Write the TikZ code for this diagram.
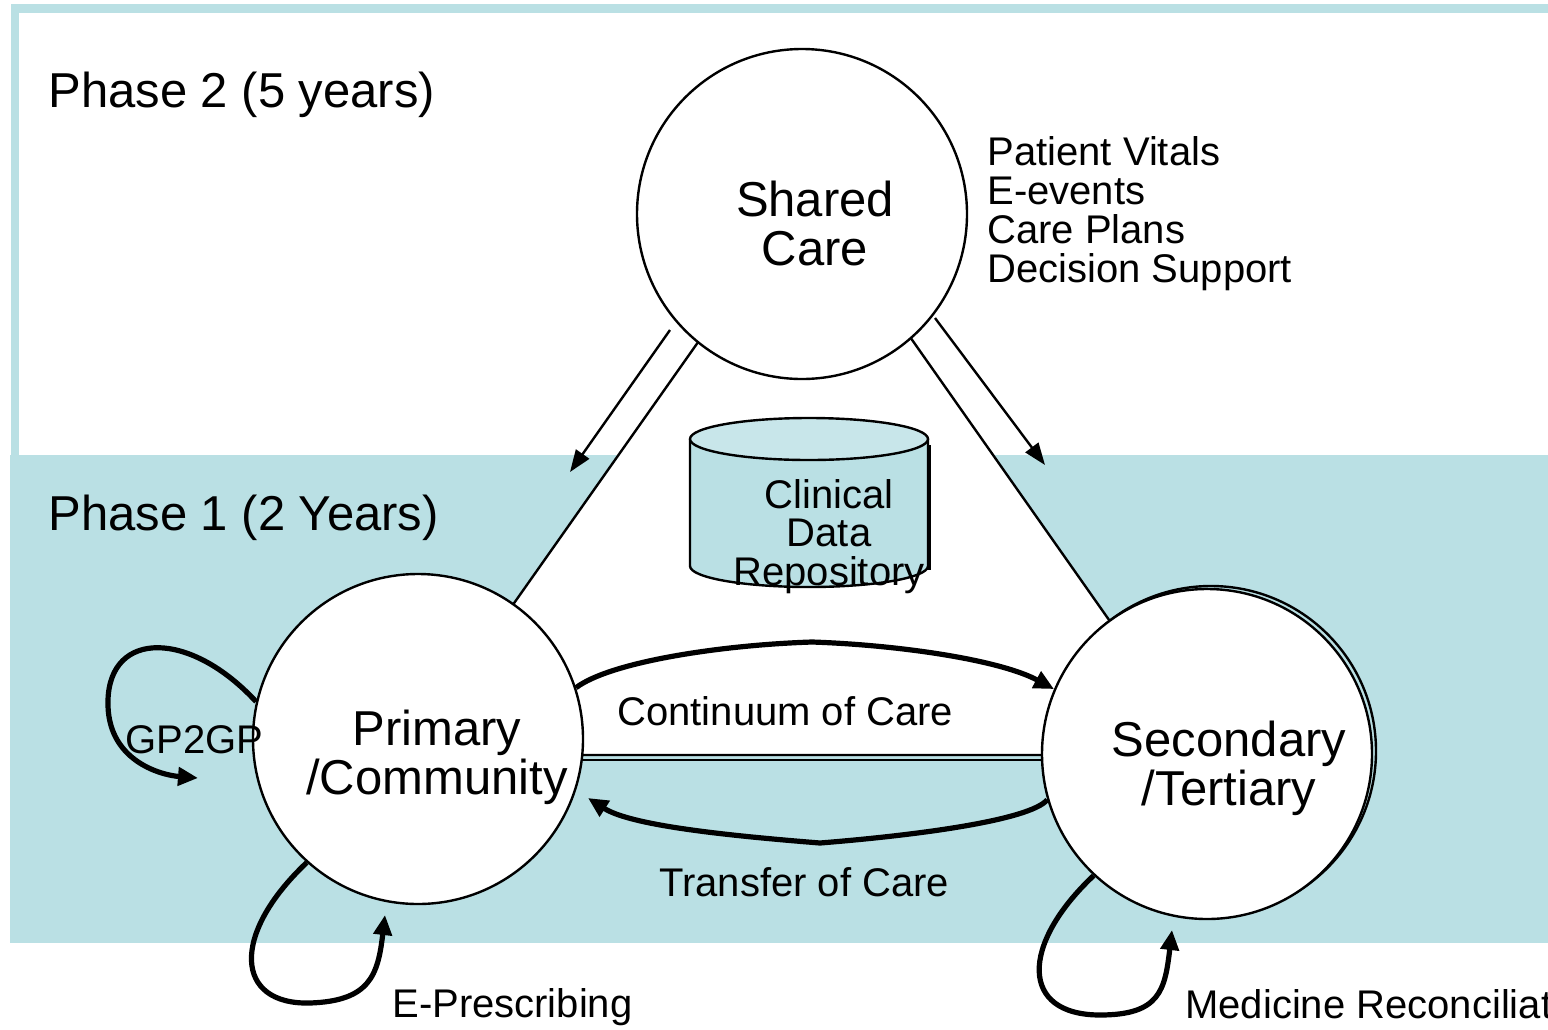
\documentclass[tikz,border=0pt]{standalone}
\usepackage{fontspec}
\setmainfont{Liberation Sans}
\usetikzlibrary{arrows.meta}
\definecolor{phaseblue}{HTML}{BAE0E4}
\definecolor{lidblue}{HTML}{C8E6EA}

\begin{document}
\begin{tikzpicture}[x=0.5pt,y=-0.5pt,
  unit/.style={circle, draw, fill=white, line width=1.2pt, minimum size=165pt, inner sep=0pt},
  bigtext/.style={font=\fontsize{24.5}{24.5}\selectfont, align=center, inner sep=0pt},
  smalltext/.style={font=\fontsize{20}{19.5}\selectfont, inner sep=0pt},
  flow/.style={line width=2.6pt, -{Triangle[length=10pt,width=9pt]}},
  feed/.style={line width=1.2pt, -{Triangle[length=11pt,width=8pt]}}]
  \clip (0,0) rectangle (1548,1029);
  \fill[white] (0,0) rectangle (1548,1029);
  % phase 1 (bande)
  \fill[phaseblue] (10,455) rectangle (1560,943);
  % phase 2 (cadre)
  \draw[phaseblue, line width=4.3pt] (15,457) -- (15,8.5) -- (1560,8.5);
  \node[font=\fontsize{24.5}{24.5}\selectfont, inner sep=0pt, anchor=base west] (phasetwo) at (48,107) {Phase 2 (5 years)};
  \node[font=\fontsize{24.5}{24.5}\selectfont, inner sep=0pt, anchor=base west] (phaseone) at (48,530) {Phase 1 (2 Years)};
  % triangle
  \coordinate (apex) at (806,189);
  \coordinate (bl) at (407,755);
  \coordinate (br) at (1204,755);
  \draw[fill=white, line width=1.2pt] (apex) -- (bl) -- (br) -- cycle;
  \draw[line width=1pt] (407,759.5) -- (1204,759.5); % double trait
  % fleches fines
  \coordinate (la) at (670,330); \coordinate (lb) at (570,472);
  \coordinate (ra) at (935,318); \coordinate (rb) at (1045,465);
  \draw[feed] (la) -- (lb);
  \draw[feed] (ra) -- (rb);
  % entrepot (cylindre)
  \fill[phaseblue] (690,439) -- (690,566) arc[start angle=180, end angle=0, x radius=119, y radius=21] -- (928,439) -- cycle;
  \draw[line width=1.2pt] (690,439) -- (690,566) arc[start angle=180, end angle=0, x radius=119, y radius=21] -- (928,439);
  \draw[line width=2pt] (929,445) -- (929,570);
  \draw[fill=lidblue, line width=1.2pt] (809,439) ellipse[x radius=119, y radius=21];
  \node[smalltext, align=center, anchor=north, font=\fontsize{20}{19.25}\selectfont] (cdr) at (829,479) {Clinical\\Data\\Repository};
  % cercles
  \draw[line width=1.2pt] (1211,751) circle[radius=165]; % ombre
  \node[unit] (shared) at (802,214) {};
  \node[unit] (primary) at (418,739) {};
  \node[unit] (secondary) at (1207,754) {};
  \node[bigtext, anchor=north] (sharedtext) at (815,181) {Shared\\Care};
  \node[bigtext, anchor=north] (primarytext) at (437,710) {Primary\\/Community};
  \node[bigtext, anchor=north] (secondarytext) at (1229,721) {Secondary\\/Tertiary};
  % donnees partagees
  \node[smalltext, align=left, anchor=north west] (data) at (987,136) {Patient Vitals\\E-events\\Care Plans\\Decision Support};
  % continuum / transfert
  \draw[flow] (primary.18) .. controls (610,662) and (720,645) .. (812,642)
    .. controls (900,645) and (1000,660) .. (secondary.157);
  \draw[flow] (secondary.196) .. controls (1030,820) and (920,835) .. (820,843)
    .. controls (720,835) and (630,825) .. (588,798);
  \node[smalltext, anchor=base west] (continuum) at (617,725) {Continuum of Care};
  \node[smalltext, anchor=base west] (transfer) at (659,896) {Transfer of Care};
  % boucles
  \coordinate (gpend) at (198,778);
  \coordinate (rxend) at (385,915);
  \coordinate (medend) at (1172,930);
  \draw[flow] (primary.167) .. controls (190,630) and (110,630) .. (108,700)
    .. controls (106,760) and (160,775) .. (gpend);
  \draw[flow] (primary.228) .. controls (230,935) and (235,1005) .. (310,1003)
    .. controls (370,1001) and (378,975) .. (rxend);
  \draw[flow] (secondary.227) .. controls (1020,945) and (1020,1015) .. (1100,1015)
    .. controls (1160,1015) and (1165,990) .. (medend);
  \node[smalltext, anchor=base west] (gp) at (125,753) {GP2GP};
  \node[smalltext, anchor=base west] (rx) at (392,1017) {E-Prescribing};
  \node[smalltext, anchor=base west] (med) at (1185,1018) {Medicine Reconciliation};
\end{tikzpicture}
\end{document}
